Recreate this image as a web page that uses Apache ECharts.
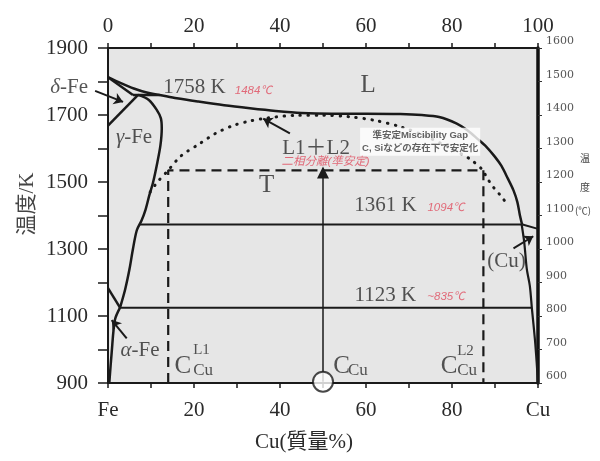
<!DOCTYPE html>
<html>
<head>
<meta charset="utf-8">
<script src="https://cdn.jsdelivr.net/npm/echarts@6/dist/echarts.min.js"></script>
<style>
  html, body { margin: 0; padding: 0; background: #fff; }
  #chart { width: 600px; height: 461px; }
</style>
</head>
<body>
<div id="chart"></div>
<script>
// Fe-Cu 二元系状態図 (x: Cu 質量%, y: 温度 K)
const liquidus = [[0,1813],[3,1795],[6,1779],[9,1767],[12,1760],[16,1750],[21,1740],[27,1729],[33,1720],[39,1712],[45,1706],[52,1704],[60,1704],[68,1703],[73,1700],[77,1694],[81,1675],[83.5,1655],[86,1628],[88,1605],[90,1575],[91.5,1548],[93,1510],[94.3,1475],[95.2,1440],[95.8,1400],[96.3,1373]];
const deltaSolidus = [[0,1813],[5.8,1760]];
const peritectic = [[5.8,1760],[12,1760]];
const deltaGamma = [[0,1668],[7,1760]];
const gammaBound = [[7,1760],[9.5,1745],[11.3,1716],[12.3,1690],[12.5,1660],[12.2,1610],[11.5,1560],[10.5,1500],[9.6,1460],[8.7,1416],[7.8,1385],[6.7,1356],[5.8,1300],[5.0,1240],[4.0,1180],[2.8,1125]];
const alphaGamma = [[0,1183],[2.8,1125]];
const alphaSolvus = [[2.8,1125],[1.6,1088],[0.85,990],[0.3,900]];
const line1361 = [[7.4,1373],[96.4,1373]];
const line1123 = [[2.8,1125],[98.5,1125]];
const cuLiquidus = [[96.4,1373],[100,1360]];
const cuSolvus = [[96.2,1373],[96.8,1320],[97.4,1240],[98.1,1190],[98.6,1120],[99.3,1028],[99.7,960],[100,900]];
const gapCurve = [[9.8,1470],[11.5,1500],[14,1535],[17,1578],[21.4,1615],[25,1645],[29,1668],[33,1682],[37,1691],[44,1699],[50,1699],[56,1695],[62,1684],[68,1665],[74,1636],[80,1598],[84,1570],[87.2,1535],[88,1515],[89.6,1485],[91.2,1461],[92.7,1436]];
const tBox = [[14,900],[14,1535],[87.3,1535],[87.3,900]];
const cCu = [50, 904];
const cCuArrow = [[50,904],[50,1528]];

// 矢印 (始点, 終点)
const arrows = [
  [[-3.0,1772],[3.5,1739]],   // δ-Fe
  [[42.3,1645],[36.1,1689]],  // L1+L2
  [[94.3,1302],[98.9,1338]],  // (Cu)
  [[4.35,1033],[0.86,1088]]   // α-Fe
];

const xLabelNames = {0: 'Fe', 100: 'Cu'};

// 注記: テキスト, x, y, 種類, 配置
const notes = [
  ['L', 60.5, 1789, 'big', 'inside'],
  ['1758 K', 20.1, 1783, 'serif', 'inside'],
  ['1484℃', 33.8, 1772, 'red', 'inside'],
  ['{i|δ}-Fe', -4.65, 1783, 'serif', 'left'],
  ['{i|γ}-Fe', 6.05, 1634, 'serif', 'inside'],
  ['L1＋L2', 48.4, 1601, 'serif', 'inside'],
  ['二相分離(準安定)', 50.6, 1561, 'red', 'inside'],
  ['T', 36.9, 1490, 'big', 'inside'],
  ['1361 K', 64.5, 1431, 'serif', 'inside'],
  ['1094℃', 78.6, 1422, 'red', 'inside'],
  ['1123 K', 64.5, 1162, 'serif', 'inside'],
  ['~835℃', 78.6, 1157, 'red', 'inside'],
  ['(Cu)', 92.7, 1262, 'serif', 'inside'],
  ['{i|α}-Fe', 7.44, 998, 'serif', 'inside'],
  ['C', 17.4, 950, 'bigC', 'inside'],
  ['L1', 19.8, 997, 'sup', 'right'],
  ['Cu', 19.8, 937, 'sub', 'right'],
  ['C', 54.3, 950, 'bigC', 'inside'],
  ['Cu', 55.8, 937, 'sub', 'right'],
  ['C', 79.3, 949, 'bigC', 'inside'],
  ['L2', 81.2, 995, 'sup', 'right'],
  ['Cu', 81.2, 937, 'sub', 'right'],
  ['準安定Miscibility Gap\nC, Siなどの存在下で安定化', 72.6, 1620, 'box', 'inside']
];

const SERIF = "'Liberation Serif','Noto Sans CJK JP',serif";
const SANS = "'Liberation Sans','Noto Sans CJK JP',sans-serif";
const CJK = "'Noto Sans CJK JP',sans-serif";
const INK = '#1a1a1a';
const TXT = '#2a2a2a';

const noteStyles = {
  serif: {fontFamily: SERIF, fontSize: 21, color: TXT},
  big:   {fontFamily: SERIF, fontSize: 25, color: TXT},
  bigC:  {fontFamily: SERIF, fontSize: 25, color: TXT},
  sup:   {fontFamily: SERIF, fontSize: 15, color: TXT},
  sub:   {fontFamily: SERIF, fontSize: 17, color: TXT},
  red:   {fontFamily: SANS, fontSize: 11.5, fontStyle: 'italic', color: '#e04a5c'},
  box:   {fontFamily: SANS, fontSize: 9.5, fontWeight: 'bold', color: '#3a3a3a', lineHeight: 13,
          backgroundColor: '#fff', padding: [1, 2, 1, 2]}
};

function curve(data, extra) {
  return Object.assign({
    type: 'line', data: data, showSymbol: false, symbol: 'none', silent: true,
    lineStyle: {color: INK, width: 2.5}, z: 3
  }, extra || {});
}

const chart = echarts.init(document.getElementById('chart'));

const option = {
  animation: false,
  grid: {left: 108, right: 62, top: 48, bottom: 78, show: true,
         backgroundColor: '#e6e6e6', borderWidth: 0},
  xAxis: [
    {
      type: 'value', position: 'bottom', min: 0, max: 100, interval: 10,
      axisLine: {show: true, onZero: false, lineStyle: {color: INK, width: 2}},
      axisTick: {show: true, length: 5, lineStyle: {color: INK, width: 1.5}},
      splitLine: {show: false},
      axisLabel: {
        margin: 17, fontSize: 21, fontFamily: SERIF, color: TXT,
        showMinLabel: true, showMaxLabel: true,
        formatter: v => (v % 20 ? '' : (xLabelNames[v] || String(v)))
      },
      name: 'Cu(質量%)', nameLocation: 'middle', nameGap: 49,
      nameTextStyle: {fontSize: 21, fontFamily: SERIF, color: TXT, padding: [0, 38, 0, 0]}
    },
    {
      type: 'value', position: 'top', min: 0, max: 100, interval: 10,
      axisLine: {show: true, onZero: false, lineStyle: {color: INK, width: 2}},
      axisTick: {show: true, length: 5, lineStyle: {color: INK, width: 1.5}},
      splitLine: {show: false},
      axisLabel: {
        margin: 11, fontSize: 21, fontFamily: SERIF, color: TXT,
        showMinLabel: true, showMaxLabel: true,
        formatter: v => (v % 20 ? '' : String(v))
      }
    }
  ],
  yAxis: [
    {
      type: 'value', position: 'left', min: 900, max: 1900, interval: 100,
      axisLine: {show: true, onZero: false, lineStyle: {color: INK, width: 2}},
      axisTick: {show: true, length: 10, lineStyle: {color: INK, width: 1.5}},
      splitLine: {show: false},
      axisLabel: {
        margin: 20, fontSize: 21, fontFamily: SERIF, color: TXT,
        showMinLabel: true, showMaxLabel: true,
        formatter: v => ((v - 900) % 200 ? '' : String(v))
      }
    },
    {
      type: 'value', position: 'right', min: 600, max: 1600, interval: 100,
      axisLine: {show: true, onZero: false, lineStyle: {color: '#111', width: 3.5}},
      axisTick: {show: true, length: 4, lineStyle: {color: '#333', width: 1}},
      splitLine: {show: false},
      axisLabel: {
        margin: 8, fontSize: 11, fontFamily: "'DejaVu Serif',serif", color: '#555',
        verticalAlign: 'bottom', padding: [0, 0, 1, 0],
        showMinLabel: true, showMaxLabel: true,
        formatter: v => String(v)
      }
    }
  ],
  graphic: [
    {type: 'text', x: 27, y: 204, rotation: Math.PI / 2,
     style: {text: '温度/K', fontSize: 21, fontFamily: SERIF, fill: '#444',
             align: 'center', verticalAlign: 'middle'}},
    {type: 'text', x: 585, y: 158,
     style: {text: '温', fontSize: 10, fontFamily: CJK, fill: '#444',
             align: 'center', verticalAlign: 'middle'}},
    {type: 'text', x: 585, y: 187,
     style: {text: '度', fontSize: 10, fontFamily: CJK, fill: '#444',
             align: 'center', verticalAlign: 'middle'}},
    {type: 'text', x: 583, y: 210,
     style: {text: '(℃)', fontSize: 9.5, fontFamily: CJK, fill: '#444',
             align: 'center', verticalAlign: 'middle'}}
  ],
  series: [
    curve(liquidus, {smooth: 0.3}),
    curve(deltaSolidus),
    curve(peritectic),
    curve(deltaGamma),
    curve(gammaBound, {smooth: 0.3}),
    curve(alphaGamma),
    curve(alphaSolvus, {smooth: 0.3}),
    curve(line1361, {lineStyle: {color: INK, width: 2}}),
    curve(line1123, {lineStyle: {color: INK, width: 2}}),
    curve(cuLiquidus, {lineStyle: {color: INK, width: 2}}),
    curve(cuSolvus, {smooth: 0.3, lineStyle: {color: INK, width: 2.2}}),
    curve(gapCurve, {smooth: 0.3, lineStyle: {color: INK, width: 3, type: [0.5, 7.5], cap: 'round'}}),
    curve(tBox, {lineStyle: {color: INK, width: 2.2, type: [10, 6]}}),
    {
      type: 'lines', coordinateSystem: 'cartesian2d', silent: true, z: 4, clip: false,
      symbol: ['none', 'arrow'], symbolSize: 9,
      lineStyle: {color: INK, width: 2, opacity: 1},
      data: arrows.map(a => ({coords: a}))
    },
    {
      type: 'lines', coordinateSystem: 'cartesian2d', silent: true, z: 4, clip: false,
      symbol: ['none', 'triangle'], symbolSize: [8, 12],
      lineStyle: {color: INK, width: 1.5, opacity: 1},
      data: [{coords: cCuArrow}]
    },
    {
      type: 'scatter', data: [cCu], symbol: 'circle', symbolSize: 20, clip: false, z: 6, silent: true,
      itemStyle: {color: '#fff', borderColor: INK, borderWidth: 2}
    },
    {
      type: 'scatter', symbolSize: 0, clip: false, z: 8, silent: true,
      data: notes.map(n => ({
        value: [n[1], n[2]],
        label: Object.assign({
          show: true, formatter: n[0], position: n[4], distance: 0,
          rich: {i: {fontStyle: 'italic', fontFamily: SERIF, fontSize: 21, color: TXT}}
        }, noteStyles[n[3]])
      }))
    }
  ]
};

chart.setOption(option);
</script>
</body>
</html>
